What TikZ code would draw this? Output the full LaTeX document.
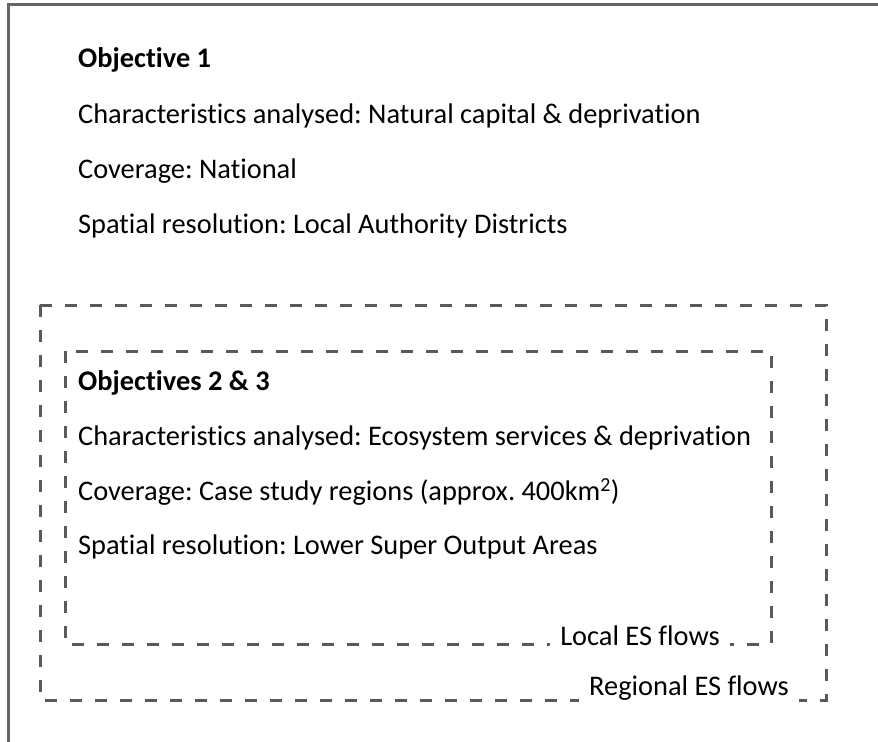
\documentclass[tikz,border=0pt]{standalone}
\usepackage{fontspec}
\setmainfont{Carlito}[Ligatures=NoCommon]
\definecolor{framegray}{HTML}{666666}
\definecolor{dashgray}{HTML}{5A5A5A}
\tikzset{
  objtext/.style={anchor=base west, inner sep=0pt, font=\fontsize{28.5}{34}\selectfont},
  objhead/.style={objtext, font=\fontsize{28.5}{34}\selectfont\bfseries},
  flowbox/.style={draw=dashgray, line width=3bp, dash pattern=on 12bp off 13bp},
  flowlabel/.style={anchor=base, fill=white, inner xsep=10bp, inner ysep=2bp, font=\fontsize{28.5}{34}\selectfont}
}
\begin{document}
\frenchspacing
\begin{tikzpicture}[x=1bp,y=-1bp]
\useasboundingbox (0,0) rectangle (878,742);
\clip (0,0) rectangle (878,742);
% outer frame (cut off at right and bottom)
\draw [framegray, line width=3bp] (8,760) -- (8,5) -- (900,5);
% objective 1
\node [objhead] (obj1) at (78,68) {Objective 1};
\node [objtext] (obj1char) at (78,123) {Characteristics analysed: Natural capital \& deprivation};
\node [objtext] (obj1cov) at (78,178) {Coverage: National};
\node [objtext] (obj1res) at (78,233) {Spatial resolution: Local Authority Districts};
% regional and local flow boxes
\draw [flowbox] (40,305) rectangle (826,700);
\draw [flowbox] (65,351) rectangle (771,644);
\node [flowlabel] (regional) at (689,695) {Regional ES flows};
\node [flowlabel] (local) at (640,645) {Local ES flows};
% objectives 2 & 3
\node [objhead] (obj23) at (78,390) {Objectives 2 \& 3};
\node [objtext] (obj23char) at (78,445) {Characteristics analysed: Ecosystem services \& deprivation};
\node [objtext] (obj23cov) at (78,500) {Coverage: Case study regions (approx. 400km\textsuperscript{2})};
\node [objtext] (obj23res) at (78,554) {Spatial resolution: Lower Super Output Areas};
\end{tikzpicture}
\end{document}
